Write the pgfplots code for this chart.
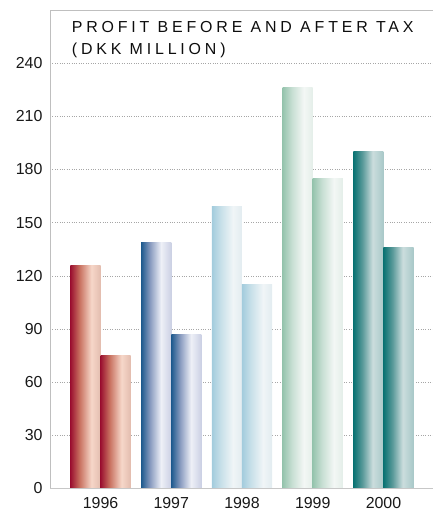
\documentclass[border=0pt]{standalone}
\usepackage{pgfplots}
\pgfplotsset{compat=1.18}
\usepackage{fontspec}
\setmainfont{Liberation Sans}
\newfontfamily\titlefont[LetterSpace=24]{Liberation Sans}

\definecolor{a1}{HTML}{9B1030}\definecolor{a2}{HTML}{C8705F}\definecolor{a3}{HTML}{F6D7C9}\definecolor{a4}{HTML}{E3BCAE}
\definecolor{b1}{HTML}{1E5A8E}\definecolor{b2}{HTML}{8A9CC0}\definecolor{b3}{HTML}{EEF0F7}\definecolor{b4}{HTML}{CBD0E4}
\definecolor{c1}{HTML}{A3CCDD}\definecolor{c2}{HTML}{C8E0E9}\definecolor{c3}{HTML}{F0F5F7}\definecolor{c4}{HTML}{E2ECF0}
\definecolor{d1}{HTML}{96C4AE}\definecolor{d2}{HTML}{C6DED2}\definecolor{d3}{HTML}{F3F7F5}\definecolor{d4}{HTML}{E4EEE9}
\definecolor{e1}{HTML}{0A7373}\definecolor{e2}{HTML}{5A9A9A}\definecolor{e3}{HTML}{CBDDDD}\definecolor{e4}{HTML}{A8C8C8}

\pgfdeclarehorizontalshading{sa}{100bp}{color(0bp)=(a1); color(25bp)=(a1); color(40bp)=(a2); color(60bp)=(a3); color(75bp)=(a4); color(100bp)=(a4)}
\pgfdeclarehorizontalshading{sb}{100bp}{color(0bp)=(b1); color(25bp)=(b1); color(40bp)=(b2); color(58bp)=(b3); color(75bp)=(b4); color(100bp)=(b4)}
\pgfdeclarehorizontalshading{sc}{100bp}{color(0bp)=(c1); color(25bp)=(c1); color(40bp)=(c2); color(60bp)=(c3); color(75bp)=(c4); color(100bp)=(c4)}
\pgfdeclarehorizontalshading{sd}{100bp}{color(0bp)=(d1); color(25bp)=(d1); color(40bp)=(d2); color(60bp)=(d3); color(75bp)=(d4); color(100bp)=(d4)}
\pgfdeclarehorizontalshading{se}{100bp}{color(0bp)=(e1); color(25bp)=(e1); color(40bp)=(e2); color(57bp)=(e3); color(75bp)=(e4); color(100bp)=(e4)}

\begin{document}
\begin{tikzpicture}
\begin{axis}[
  at={(0,0)}, anchor=south west,
  scale only axis, width=383bp, height=478bp,
  xmin=-0.714, xmax=4.70, ymin=0, ymax=269.7,
  axis line style={draw=none},
  xtick={0,1,2,3,4},
  xticklabels={1996,1997,1998,1999,2000},
  ytick={0,30,...,240},
  major tick length=0pt,
  ymajorgrids,
  major grid style={dotted, black!35, line width=0.5pt},
  tick label style={font=\fontsize{16}{19}\selectfont, text=black!90},
  /pgf/number format/assume math mode=true,
  yticklabel style={xshift=-4bp},
  xticklabel style={yshift=-5bp},
  clip=false,
]
\draw[black!25, line width=1pt] (rel axis cs:0,0) -- (rel axis cs:0,1) -- (rel axis cs:1,1);
\addplot[ybar, bar width=0.425, bar shift=-0.2125, draw=none, shading=sa] coordinates {(0,126)};
\addplot[ybar, bar width=0.425, bar shift=0.2125, draw=none, shading=sa] coordinates {(0,75)};
\addplot[ybar, bar width=0.425, bar shift=-0.2125, draw=none, shading=sb] coordinates {(1,139)};
\addplot[ybar, bar width=0.425, bar shift=0.2125, draw=none, shading=sb] coordinates {(1,87)};
\addplot[ybar, bar width=0.425, bar shift=-0.2125, draw=none, shading=sc] coordinates {(2,159)};
\addplot[ybar, bar width=0.425, bar shift=0.2125, draw=none, shading=sc] coordinates {(2,115)};
\addplot[ybar, bar width=0.425, bar shift=-0.2125, draw=none, shading=sd] coordinates {(3,226)};
\addplot[ybar, bar width=0.425, bar shift=0.2125, draw=none, shading=sd] coordinates {(3,175)};
\addplot[ybar, bar width=0.425, bar shift=-0.2125, draw=none, shading=se] coordinates {(4,190)};
\addplot[ybar, bar width=0.425, bar shift=0.2125, draw=none, shading=se] coordinates {(4,136)};
\draw[black!22, line width=1.8pt] (rel axis cs:0,0) -- (rel axis cs:1,0);
\node[anchor=north west, align=left, inner sep=0pt, text=black!95,
      font=\titlefont\fontsize{16}{22}\selectfont]
  at (rel axis cs:0.0567,0.978) {PROFIT BEFORE AND AFTER TAX\\(DKK MILLION)};
\end{axis}
\pgfresetboundingbox
\path (-50bp,-23.5bp) rectangle (383bp,488.5bp);
\end{tikzpicture}
\end{document}
